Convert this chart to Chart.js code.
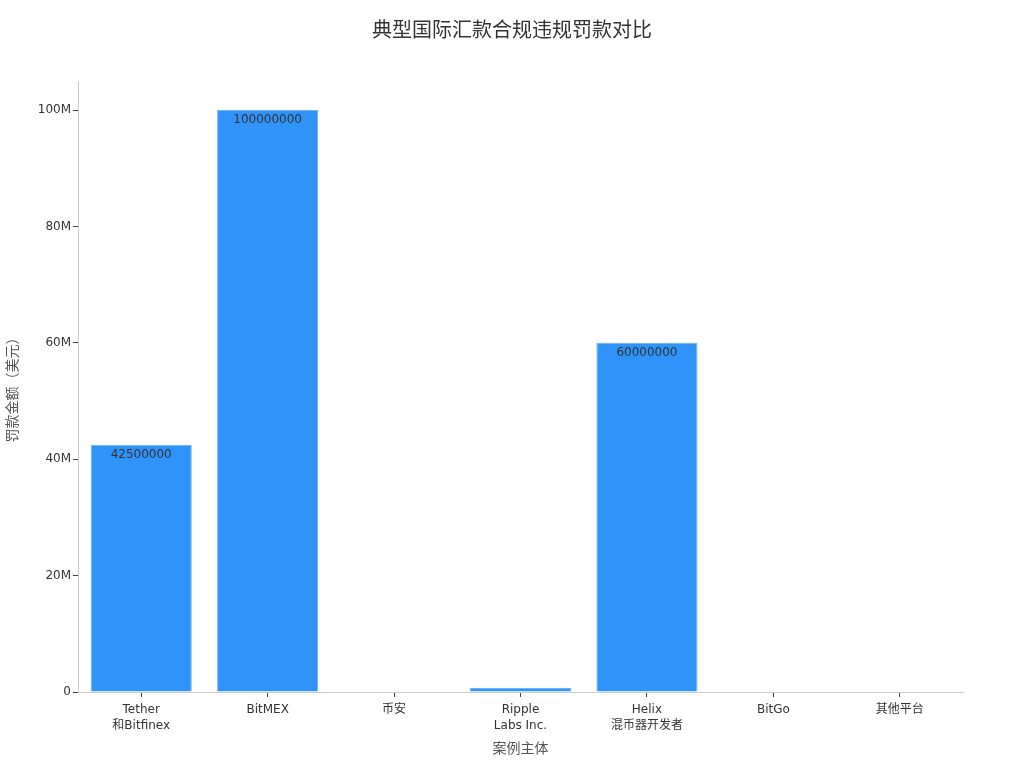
<!DOCTYPE html>
<html>
<head>
<meta charset="utf-8">
<script src="https://cdn.jsdelivr.net/npm/chart.js@4/dist/chart.umd.min.js"></script>
<style>
  html, body { margin: 0; padding: 0; background: #fff; }
  #wrap { width: 1024px; height: 768px; }
</style>
</head>
<body>
<div id="wrap"><canvas id="chart" width="1024" height="768"></canvas></div>
<script>
// data
const categories = [
  ['Tether', '和Bitfinex'],
  'BitMEX',
  '币安',
  ['Ripple', 'Labs Inc.'],
  ['Helix', '混币器开发者'],
  'BitGo',
  '其他平台'
];
const fines = [42500000, 100000000, 0, 700000, 60000000, 98830, 0];
const yTicks = [0, 20000000, 40000000, 60000000, 80000000, 100000000];
const yMax = 105000000;

const FONT = "'DejaVu Sans', 'Noto Sans CJK SC', sans-serif";

// value labels drawn inside the top of each bar, clipped to the bar
const barLabels = {
  id: 'barLabels',
  afterDatasetsDraw(chart) {
    const ctx = chart.ctx;
    const meta = chart.getDatasetMeta(0);
    meta.data.forEach((bar, i) => {
      const v = fines[i];
      if (!v) return;
      const p = bar.getProps(['x', 'y', 'base', 'width'], true);
      ctx.save();
      ctx.beginPath();
      ctx.rect(p.x - p.width / 2, p.y, p.width, p.base - p.y);
      ctx.clip();
      ctx.fillStyle = '#333';
      ctx.font = '12px ' + FONT;
      ctx.textAlign = 'center';
      ctx.textBaseline = 'middle';
      ctx.fillText(String(v), p.x, p.y + 10);
      ctx.restore();
    });
  }
};

new Chart(document.getElementById('chart'), {
  type: 'bar',
  data: {
    labels: categories,
    datasets: [{
      data: fines,
      backgroundColor: '#2f93f9',
      borderColor: '#6db3f7',
      borderWidth: 1,
      categoryPercentage: 0.8,
      barPercentage: 1.0
    }]
  },
  options: {
    responsive: false,
    animation: false,
    layout: { padding: 0 },
    plugins: {
      legend: { display: false },
      tooltip: { enabled: false },
      title: {
        display: true,
        text: '典型国际汇款合规违规罚款对比',
        color: '#333',
        font: { family: FONT, size: 20, weight: 'normal' },
        padding: { top: 20, bottom: 37 }
      }
    },
    scales: {
      x: {
        offset: true,
        grid: {
          display: true,
          offset: false,
          drawOnChartArea: false,
          tickLength: 5,
          tickColor: '#444'
        },
        border: { color: '#ccc' },
        ticks: {
          color: '#333',
          font: { family: FONT, size: 12, lineHeight: 1.35 },
          padding: 5,
          maxRotation: 0,
          autoSkip: false
        },
        title: {
          display: true,
          text: '案例主体',
          color: '#555',
          font: { family: FONT, size: 14 },
          padding: { top: 0, bottom: 10 }
        },
        afterFit(scale) { scale.height = 76; }
      },
      y: {
        min: 0,
        max: yMax,
        grid: {
          display: true,
          drawOnChartArea: false,
          tickLength: 5,
          tickColor: '#444'
        },
        border: { color: '#ccc' },
        ticks: {
          color: '#333',
          font: { family: FONT, size: 12 },
          padding: 2,
          callback: v => v === 0 ? '0' : (v / 1000000) + 'M'
        },
        afterBuildTicks(scale) {
          scale.ticks = yTicks.map(v => ({ value: v }));
        },
        title: {
          display: true,
          text: '罚款金额（美元）',
          color: '#555',
          font: { family: FONT, size: 14 },
          padding: { top: 5, bottom: 4 }
        },
        afterFit(scale) { scale.width = 78; }
      },
      // empty right-hand box that keeps the plot's right margin
      yRight: {
        position: 'right',
        display: true,
        grid: { display: false },
        border: { display: false },
        ticks: { display: false },
        afterFit(scale) { scale.width = 61; }
      }
    }
  },
  plugins: [barLabels]
});
</script>
</body>
</html>
